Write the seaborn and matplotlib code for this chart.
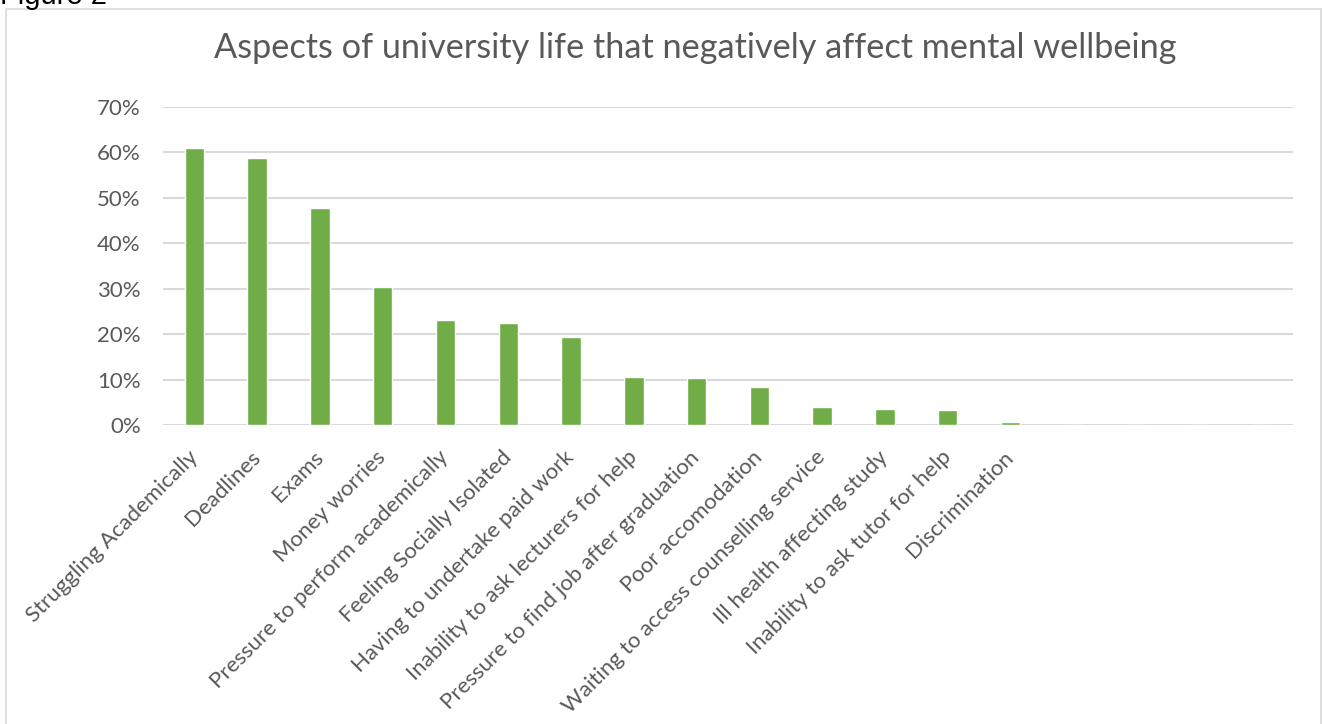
import matplotlib
matplotlib.use("Agg")
import matplotlib.pyplot as plt
import seaborn as sns
import pandas as pd
from matplotlib.ticker import FuncFormatter, MultipleLocator
from matplotlib.patches import Rectangle

categories = [
    "Struggling Academically",
    "Deadlines",
    "Exams",
    "Money worries",
    "Pressure to perform academically",
    "Feeling Socially Isolated",
    "Having to undertake paid work",
    "Inability to ask lecturers for help",
    "Pressure to find job after graduation",
    "Poor accomodation",
    "Waiting to access counselling service",
    "Ill health affecting study",
    "Inability to ask tutor for help",
    "Discrimination",
]
shares = [0.609, 0.588, 0.477, 0.304, 0.231, 0.224, 0.194, 0.105, 0.103,
          0.083, 0.040, 0.035, 0.033, 0.007]
# empty trailing slots on the category axis
blank_slots = ["", " ", "  ", "   "]

title = "Aspects of university life that negatively affect mental wellbeing"
caption = "Figure 2"

bar_color = "#70AD47"
text_color = "#595959"
grid_color = "#D9D9D9"

sns.set_theme(style="white")
plt.rcParams["font.family"] = ["Lato", "DejaVu Sans"]

df = pd.DataFrame({"aspect": categories + blank_slots,
                   "share": shares + [0.0] * len(blank_slots)})

fig = plt.figure(figsize=(13.23, 7.24), dpi=100)
ax = fig.add_axes([163 / 1323, 1 - 425 / 724, 1130 / 1323, 318 / 724])

sns.barplot(data=df, x="aspect", y="share", color=bar_color, width=0.31,
            saturation=1, ax=ax, order=categories + blank_slots)

ax.set_xlim(-0.5, len(df) - 0.5)
ax.set_ylim(0, 0.70)
ax.yaxis.set_major_locator(MultipleLocator(0.10))
ax.yaxis.set_major_formatter(FuncFormatter(lambda v, _: f"{v * 100:.0f}%"))
ax.grid(axis="y", color=grid_color, linewidth=1.5)
ax.set_axisbelow(True)
for side in ["top", "right", "left", "bottom"]:
    ax.spines[side].set_visible(False)
ax.axhline(0, color=grid_color, linewidth=1.8, zorder=0.5)

ax.set_xlabel("")
ax.set_ylabel("")
ax.tick_params(axis="both", length=0, colors=text_color, labelsize=16)
ax.tick_params(axis="y", pad=16)
ax.tick_params(axis="x", pad=21)
for lbl in ax.get_xticklabels():
    lbl.set_rotation(45)
    lbl.set_ha("right")
    lbl.set_rotation_mode("anchor")
    lbl.set_va("center")

fig.text(695 / 1323, 1 - 48 / 724, title, ha="center", va="center",
         fontsize=24.7, color=text_color)

# chart frame
fig.patches.append(Rectangle((6 / 1323, -0.01), 1315 / 1323, 1 - 9 / 724 + 0.01,
                             transform=fig.transFigure, fill=False,
                             edgecolor=grid_color, linewidth=1.2))

fig.text(0.0, 1 - 4 / 724, caption, ha="left", va="baseline", fontsize=21,
         color="black", family=["Liberation Sans", "DejaVu Sans"])

fig.savefig("out.png", dpi=100, facecolor="white")
